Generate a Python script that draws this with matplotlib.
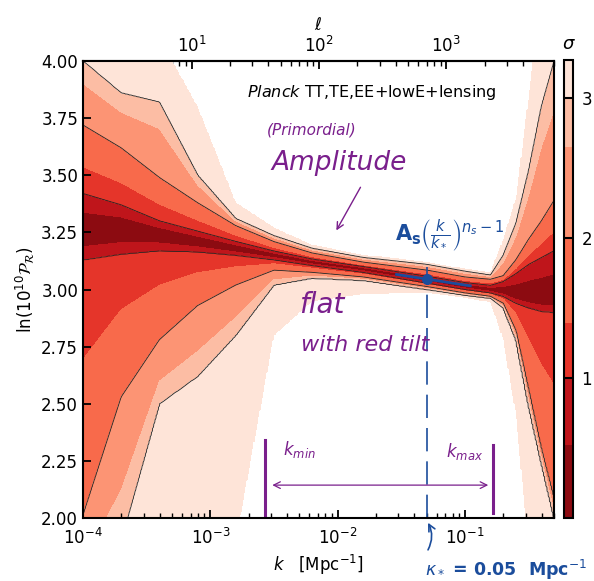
import numpy as np
import matplotlib
matplotlib.use("Agg")
import matplotlib.pyplot as plt
from matplotlib import ticker

# contours: log10(k / Mpc^-1) nodes and ln(10^10 P_R) of each sigma edge
log_k_nodes = [-4.0, -3.7, -3.4, -3.1, -2.8, -2.5, -2.2, -1.8, -1.3, -1.0, -0.8, -0.7, -0.6, -0.5, -0.4, -0.3]
centre = [3.25, 3.26, 3.24, 3.21, 3.18, 3.15, 3.12, 3.09, 3.044, 3.015, 3.0, 2.99, 2.975, 2.965, 2.96, 2.96]
upper_1 = [3.42, 3.37, 3.30, 3.255, 3.21, 3.168, 3.133, 3.10, 3.058, 3.03, 3.018, 3.035, 3.07, 3.11, 3.14, 3.17]
upper_2 = [3.72, 3.62, 3.49, 3.38, 3.28, 3.21, 3.16, 3.12, 3.085, 3.055, 3.045, 3.06, 3.13, 3.22, 3.30, 3.39]
upper_3 = [4.00, 3.86, 3.82, 3.50, 3.31, 3.235, 3.18, 3.14, 3.11, 3.08, 3.063, 3.15, 3.29, 3.52, 3.80, 4.00]
upper_edge = [4.30, 4.20, 4.10, 3.80, 3.38, 3.27, 3.195, 3.152, 3.12, 3.09, 3.075, 3.22, 3.40, 3.85, 4.30, 4.30]
lower_1 = [3.13, 3.155, 3.17, 3.165, 3.15, 3.13, 3.105, 3.075, 3.028, 3.0, 2.985, 2.97, 2.94, 2.92, 2.905, 2.90]
lower_2 = [2.01, 2.53, 2.78, 2.93, 3.02, 3.085, 3.075, 3.055, 3.013, 2.985, 2.97, 2.94, 2.82, 2.56, 2.30, 2.08]
lower_3 = [1.70, 1.90, 2.50, 2.62, 2.80, 3.02, 3.05, 3.04, 3.0, 2.975, 2.962, 2.92, 2.78, 2.49, 2.24, 2.00]
lower_edge = [1.40, 1.60, 1.80, 1.75, 1.90, 2.80, 2.95, 2.98, 2.985, 2.965, 2.945, 2.78, 2.45, 1.85, 1.60, 1.50]

sigma_levels = [0, 0.52, 1, 1.39, 2, 2.65, 3, 3.27]
band_colors = ["#8c0b11", "#bf151b", "#e5352a", "#f86a4b", "#fc9474", "#fcbda4", "#fee4d8"]

# pivot, tilt line and k range annotations
k_star = 0.05
ln_as = 3.044
tilt_k = [0.029, 0.11]
tilt_lnp = [3.066, 3.016]
k_min, k_max = 0.0027, 0.165

purple = "#7a1f8c"
blue = "#1b4d9c"

# sigma map built column by column from the read edges
log_k = np.linspace(-4, np.log10(0.5), 400)
ln_p = np.linspace(2, 4, 500)
sigma = np.empty((len(ln_p), len(log_k)))
edges = (lower_edge, lower_3, lower_2, lower_1, centre, upper_1, upper_2, upper_3, upper_edge)
edge_sigma = [3.27, 3, 2, 1, 0, 1, 2, 3, 3.27]
for j, lk in enumerate(log_k):
    pts = [np.interp(lk, log_k_nodes, e) for e in edges]
    sigma[:, j] = np.interp(ln_p, pts, edge_sigma, left=4, right=4)

plt.rcParams["font.size"] = 12
plt.rcParams["axes.linewidth"] = 1.5

fig = plt.figure(figsize=(5.94, 5.81), dpi=100)
ax = fig.add_axes([0.1397, 0.1084, 0.793, 0.7866])
cax = fig.add_axes([0.9495, 0.1084, 0.0152, 0.7883])

k_grid = 10 ** log_k
cf = ax.contourf(k_grid, ln_p, sigma, levels=sigma_levels, colors=band_colors)
cl = ax.contour(k_grid, ln_p, sigma, levels=[1, 2, 3], colors="#222222", linewidths=0.6)

ax.set_xscale("log")
ax.set_xlim(1e-4, 0.5)
ax.set_ylim(2.0, 4.0)
ax.set_yticks(np.arange(2.0, 4.01, 0.25))
ax.yaxis.set_major_formatter(ticker.FormatStrFormatter("%.2f"))
ax.tick_params(which="major", direction="in", length=6, width=1.3)
ax.tick_params(which="minor", direction="in", length=3.5, width=1)
ax.tick_params(axis="x", which="major", pad=7)
ax.set_xlabel(r"$k$   [Mpc$^{-1}$]", labelpad=4)
ax.set_ylabel(r"ln(10$^{10}\mathcal{P}_\mathcal{R}$)")

secax = ax.secondary_xaxis("top", functions=(lambda k: k * 14000, lambda l: l / 14000))
secax.xaxis.set_major_locator(ticker.FixedLocator([10, 100, 1000]))
secax.tick_params(which="major", direction="in", length=6, width=1.3)
secax.tick_params(which="minor", direction="in", length=3.5, width=1)
secax.set_xlabel(r"$\ell$")

cbar = fig.colorbar(cf, cax=cax, ticks=[1, 2, 3], spacing="proportional")
cbar.add_lines(levels=[1, 2, 3], colors=["k"] * 3, linewidths=[1.5] * 3)
cbar.outline.set_linewidth(1.5)
cax.tick_params(length=0, pad=6)
cax.set_title(r"$\sigma$", fontsize=13, pad=8)

ax.text(0.348, 0.932, r"$\it{Planck}$ TT,TE,EE+lowE+lensing", transform=ax.transAxes,
        ha="left", va="center", fontsize=11.5)

# hand-drawn style notes
ax.text(0.486, 0.849, "(Primordial)", transform=ax.transAxes, ha="center", va="center",
        color=purple, fontsize=11, style="italic")
ax.text(0.544, 0.777, "Amplitude", transform=ax.transAxes, ha="center", va="center",
        color=purple, fontsize=19, style="italic")
ax.annotate("", xy=(0.535, 0.624), xytext=(0.592, 0.729), xycoords=ax.transAxes,
            arrowprops=dict(arrowstyle="->", color=purple, lw=1))
ax.text(0.507, 0.466, "flat", transform=ax.transAxes, ha="center", va="center",
        color=purple, fontsize=20, style="italic")
ax.text(0.599, 0.379, "with red tilt", transform=ax.transAxes, ha="center", va="center",
        color=purple, fontsize=16, style="italic")

ax.text(0.779, 0.619, r"$\mathbf{A_s}\left(\frac{k}{k_*}\right)^{n_s-1}$", transform=ax.transAxes,
        ha="center", va="center", color=blue, fontsize=15)
ax.plot(tilt_k, tilt_lnp, color=blue, lw=2)
ax.plot([k_star], [ln_as], "o", color=blue, ms=7)
ax.plot([k_star, k_star], [2.0, 3.1], color=blue, lw=1.2, dashes=(14, 6))

ax.plot([k_min, k_min], [2.0, 2.34], color=purple, lw=2.2)
ax.plot([k_max, k_max], [2.02, 2.32], color=purple, lw=2.2)
ax.annotate("", xy=(k_max * 0.97, 2.144), xytext=(k_min * 1.08, 2.144),
            arrowprops=dict(arrowstyle="<->", color=purple, lw=0.9))
ax.text(0.46, 0.149, r"k$_{min}$", transform=ax.transAxes, ha="center", va="center",
        color=purple, fontsize=12, style="italic")
ax.text(0.81, 0.145, r"k$_{max}$", transform=ax.transAxes, ha="center", va="center",
        color=purple, fontsize=12, style="italic")

fig.text(0.7155, 0.019, r"$\kappa_*$ = 0.05  Mpc$^{-1}$", ha="left", va="center",
         color=blue, fontsize=12.5, fontweight="bold")
ax.annotate("", xy=(k_star, 1.99), xytext=(k_star, 1.85), xycoords="data",
            annotation_clip=False,
            arrowprops=dict(arrowstyle="->", color=blue, lw=1.2,
                            connectionstyle="arc3,rad=0.3"))

fig.savefig("out.png", dpi=100)
